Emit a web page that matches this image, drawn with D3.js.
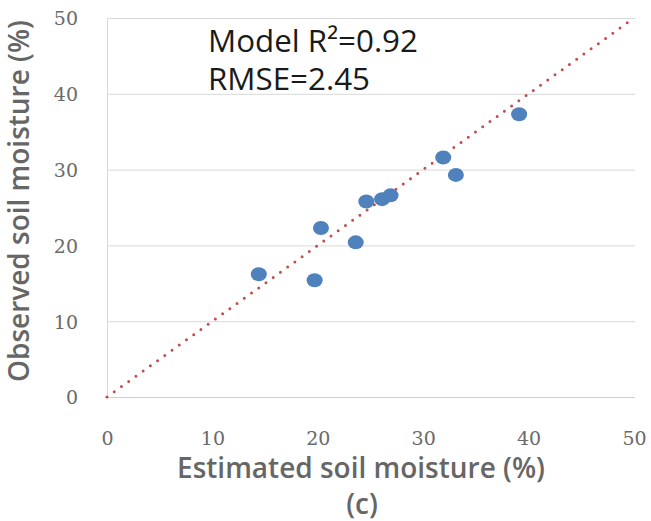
<!DOCTYPE html>
<html>
<head>
<meta charset="utf-8">
<script src="https://cdn.jsdelivr.net/npm/d3@7"></script>
<style>
  html, body { margin: 0; padding: 0; background: #fff; }
  svg { display: block; }
</style>
</head>
<body>
<svg id="chart" width="651" height="521"></svg>
<script>
// Data
const estimated = [14.4, 19.7, 20.3, 23.6, 24.6, 26.1, 26.9, 31.9, 33.1, 39.1];
const observed  = [16.2, 15.4, 22.3, 20.4, 25.8, 26.1, 26.6, 31.6, 29.3, 37.3];
const xTicks = [0, 10, 20, 30, 40, 50];
const yTicks = [0, 10, 20, 30, 40, 50];
const oneToOne = [[0, 0], [50, 50]];
const xTitle = "Estimated soil moisture (%)";
const yTitle = "Observed soil moisture (%)";
const panelLabel = "(c)";
const annotation = ["Model R\u00B2=0.92", "RMSE=2.45"];

const svg = d3.select("#chart");
const x = d3.scaleLinear().domain([0, 50]).range([107, 634]);
const y = d3.scaleLinear().domain([0, 50]).range([397, 18]);

function fitWidth(sel, target) {
  const n = sel.node();
  const w = n.getComputedTextLength();
  const fs = parseFloat(sel.attr("font-size"));
  sel.attr("font-size", (fs * target / w).toFixed(2));
}

// horizontal gridlines
svg.append("g").selectAll("line").data(yTicks.filter(d => d > 0)).join("line")
  .attr("x1", x(0)).attr("x2", x(50) + 1)
  .attr("y1", d => y(d) + 0.5).attr("y2", d => y(d) + 0.5)
  .attr("stroke", "#d9d9d9").attr("stroke-width", 1);

// left axis line (faint)
svg.append("line")
  .attr("x1", x(0) + 0.5).attr("x2", x(0) + 0.5)
  .attr("y1", y(50)).attr("y2", y(0))
  .attr("stroke", "#d9d9d9").attr("stroke-width", 1);

// bottom axis line
svg.append("line")
  .attr("x1", x(0) - 2).attr("x2", x(50) + 1)
  .attr("y1", y(0) + 0.5).attr("y2", y(0) + 0.5)
  .attr("stroke", "#cfcfcf").attr("stroke-width", 1.2);

// axes labels via d3 axes
const xAxis = d3.axisBottom(x).tickValues(xTicks).tickSize(0).tickPadding(0).tickFormat(d3.format("d"));
const gx = svg.append("g").attr("transform", `translate(0, 445)`).call(xAxis);
gx.select(".domain").remove();
gx.selectAll("text")
  .attr("dy", null).attr("y", 0)
  .attr("font-family", "'DejaVu Serif', serif").attr("font-size", 19)
  .attr("fill", "#6a6a6a");

const yAxis = d3.axisLeft(y).tickValues(yTicks).tickSize(0).tickPadding(0).tickFormat(d3.format("d"));
const gy = svg.append("g").attr("transform", `translate(78, 0)`).call(yAxis);
gy.select(".domain").remove();
gy.selectAll("text")
  .attr("x", 0).attr("dy", "0.36em")
  .attr("font-family", "'DejaVu Serif', serif").attr("font-size", 19)
  .attr("fill", "#6a6a6a");

// 1:1 dotted line
svg.append("path")
  .attr("d", d3.line().x(d => x(d[0])).y(d => y(d[1]))(oneToOne))
  .attr("fill", "none")
  .attr("stroke", "#c0504d")
  .attr("stroke-width", 3)
  .attr("stroke-linecap", "round")
  .attr("stroke-dasharray", "0 8.9");

// points
svg.append("g").selectAll("ellipse").data(estimated.map((e, i) => [e, observed[i]])).join("ellipse")
  .attr("cx", d => x(d[0])).attr("cy", d => y(d[1]))
  .attr("rx", 8).attr("ry", 7)
  .attr("fill", "#4f81bd");

// annotation
const a1 = svg.append("text").attr("x", 208).attr("y", 52)
  .attr("font-family", "'Open Sans', sans-serif").attr("font-size", 22)
  .attr("fill", "#1a1a1a").text(annotation[0]);
const a2 = svg.append("text").attr("x", 208).attr("y", 90)
  .attr("font-family", "'Open Sans', sans-serif").attr("font-size", 22)
  .attr("fill", "#1a1a1a").text(annotation[1]);
fitWidth(a1, 210);
a2.attr("font-size", a1.attr("font-size"));

// axis titles
const xt = svg.append("text").attr("x", 361).attr("y", 478)
  .attr("text-anchor", "middle")
  .attr("font-family", "'Open Sans', sans-serif").attr("font-weight", 600).attr("font-size", 22)
  .attr("fill", "#666666").text(xTitle);
fitWidth(xt, 368);

const yt = svg.append("text")
  .attr("transform", "translate(29, 201) rotate(-90)")
  .attr("text-anchor", "middle")
  .attr("font-family", "'Open Sans', sans-serif").attr("font-weight", 600).attr("font-size", 22)
  .attr("fill", "#666666").text(yTitle);
fitWidth(yt, 362);

svg.append("text").attr("x", 362).attr("y", 514)
  .attr("text-anchor", "middle")
  .attr("font-family", "'Open Sans', sans-serif").attr("font-weight", 600)
  .attr("font-size", xt.attr("font-size"))
  .attr("fill", "#666666").text(panelLabel);
</script>
</body>
</html>
